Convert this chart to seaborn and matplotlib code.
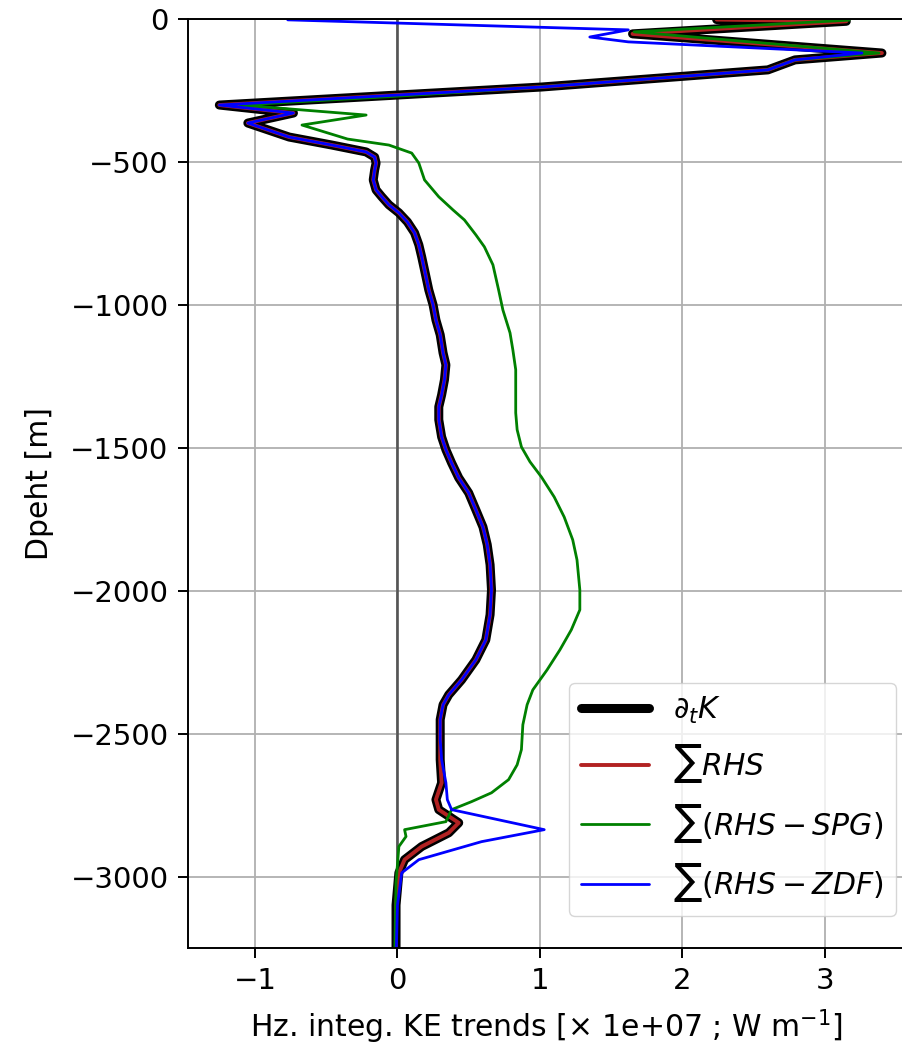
import matplotlib
matplotlib.use("Agg")
import matplotlib.pyplot as plt
import pandas as pd
import seaborn as sns

# Depth-profiles of horizontally integrated KE trends (x 1e7 W/m)
depth_dtk = [-2, -8, -52, -119, -143, -178, -238, -266, -301, -329, -364, -413,
             -441, -465, -483, -504, -528, -563, -598, -622, -650, -678, -710,
             -748, -790, -832, -878, -948, -1000, -1053, -1105, -1168, -1210,
             -1262, -1315, -1357, -1402, -1462, -1507, -1553, -1605, -1658, -1717,
             -1777, -1839, -1909, -1997, -2084, -2172, -2242, -2312, -2364, -2399,
             -2451, -2521, -2591, -2672, -2731, -2766, -2812, -2847, -2895, -2941,
             -2987, -3100, -3300]
dtk = [2.24, 3.15, 1.65, 3.40, 2.79, 2.60, 1.01, 0.00, -1.25, -0.73, -1.05, -0.76,
       -0.46, -0.22, -0.16, -0.15, -0.16, -0.17, -0.15, -0.11, -0.06, 0.01, 0.07,
       0.12, 0.15, 0.17, 0.19, 0.22, 0.25, 0.27, 0.30, 0.32, 0.34,
       0.33, 0.31, 0.29, 0.29, 0.31, 0.34, 0.38, 0.43, 0.50, 0.55,
       0.60, 0.63, 0.65, 0.66, 0.65, 0.62, 0.55, 0.45, 0.36, 0.32,
       0.30, 0.30, 0.30, 0.31, 0.27, 0.29, 0.43, 0.36, 0.17, 0.05,
       0.01, -0.01, -0.01]

depth_rhs = list(depth_dtk)
rhs = [2.24, 3.15, 1.65, 3.40, 2.79, 2.60, 1.01, 0.00, -1.25, -0.73, -1.05, -0.76,
       -0.46, -0.22, -0.16, -0.15, -0.16, -0.17, -0.15, -0.11, -0.06, 0.01, 0.07,
       0.12, 0.15, 0.17, 0.19, 0.22, 0.25, 0.27, 0.30, 0.32, 0.34,
       0.33, 0.31, 0.29, 0.29, 0.31, 0.34, 0.38, 0.43, 0.50, 0.55,
       0.60, 0.63, 0.65, 0.66, 0.65, 0.62, 0.55, 0.45, 0.36, 0.32,
       0.30, 0.30, 0.30, 0.31, 0.27, 0.29, 0.43, 0.36, 0.17, 0.05,
       0.01, -0.01, -0.01]

depth_spg = [-4, -45, -119, -143, -178, -238, -270, -301, -336, -371, -420, -441,
             -469, -504, -563, -622, -668, -703, -755, -797, -860, -948, -1018,
             -1098, -1158, -1227, -1297, -1378, -1437, -1497, -1549, -1602, -1672,
             -1742, -1822, -1892, -1997, -2067, -2137, -2207, -2277, -2347, -2399,
             -2469, -2556, -2609, -2661, -2707, -2738, -2766, -2808, -2836, -2860,
             -2895, -3021, -3300]
spg = [3.17, 1.66, 3.38, 2.79, 2.60, 1.00, 0.00, -1.10, -0.22, -0.67, -0.35, -0.06,
       0.10, 0.15, 0.19, 0.29, 0.39, 0.47, 0.55, 0.61, 0.67, 0.71, 0.74,
       0.79, 0.81, 0.83, 0.83, 0.83, 0.84, 0.87, 0.93, 1.01, 1.10,
       1.17, 1.23, 1.26, 1.28, 1.28, 1.22, 1.14, 1.05, 0.95, 0.91,
       0.88, 0.87, 0.84, 0.78, 0.66, 0.52, 0.38, 0.34, 0.05, 0.06,
       0.01, -0.01, -0.02]

depth_zdf = [-3, -38, -63, -80, -119, -143, -178, -238, -266, -301, -329, -364,
             -413, -441, -465, -483, -504, -528, -563, -598, -622, -650, -678,
             -710, -748, -790, -832, -878, -948, -1000, -1053, -1105, -1168,
             -1210, -1262, -1315, -1357, -1402, -1462, -1507, -1553, -1605, -1658,
             -1717, -1777, -1839, -1909, -1997, -2084, -2172, -2242, -2312, -2364,
             -2399, -2451, -2521, -2591, -2672, -2731, -2766, -2836, -2878, -2941,
             -2987, -3100, -3300]
zdf = [-0.77, 1.62, 1.35, 1.62, 3.26, 2.79, 2.60, 1.01, 0.00, -1.25, -0.73, -1.05,
       -0.76, -0.46, -0.22, -0.16, -0.15, -0.16, -0.17, -0.15, -0.11, -0.06, 0.01,
       0.07, 0.12, 0.15, 0.17, 0.19, 0.22, 0.25, 0.27, 0.30, 0.32,
       0.34, 0.33, 0.31, 0.29, 0.29, 0.31, 0.34, 0.38, 0.43, 0.50,
       0.55, 0.60, 0.63, 0.65, 0.66, 0.65, 0.62, 0.55, 0.45, 0.36,
       0.32, 0.30, 0.30, 0.31, 0.34, 0.35, 0.38, 1.03, 0.59, 0.15,
       0.03, 0.00, -0.01]

labels = [r"$\partial_t K$", r"$\sum RHS$", r"$\sum (RHS - SPG)$", r"$\sum (RHS - ZDF)$"]
colors = ["black", "#b22222", "green", "blue"]
widths = [6.5, 2.8, 2.0, 2.0]

x_ticks = [-1, 0, 1, 2, 3]
y_ticks = [0, -500, -1000, -1500, -2000, -2500, -3000]

sns.set_style("ticks", {"axes.grid": True, "grid.color": "#b0b0b0",
                        "axes.edgecolor": "black"})
plt.rcParams.update({
    "font.family": ["DejaVu Sans"],
    "mathtext.fontset": "dejavusans",
    "xtick.labelsize": 21,
    "ytick.labelsize": 21,
    "axes.labelsize": 21.5,
    "legend.fontsize": 21.5,
    "grid.linewidth": 1.3,
    "axes.linewidth": 1.4,
    "xtick.major.size": 7,
    "ytick.major.size": 7,
    "xtick.major.pad": 7,
    "ytick.major.pad": 7,
    "xtick.major.width": 1.4,
    "ytick.major.width": 1.4,
    "xtick.color": "black",
    "ytick.color": "black",
    "text.color": "black",
    "axes.labelcolor": "black",
})

fig = plt.figure(figsize=(9.03, 10.5), dpi=100)
ax = fig.add_axes([188 / 903, 102 / 1050, 716 / 903, 929 / 1050])

ax.axvline(0, color="#555555", lw=1.9, zorder=1.5)

series = [(depth_dtk, dtk), (depth_rhs, rhs), (depth_spg, spg), (depth_zdf, zdf)]
for (z, v), lab, col, lw in zip(series, labels, colors, widths):
    df = pd.DataFrame({"value": v, "depth": z})
    sns.lineplot(data=df, x="value", y="depth", sort=False, estimator=None,
                 color=col, lw=lw, label=lab, ax=ax, zorder=2)

ax.set_xlim(-1.47, 3.555)
ax.set_ylim(-3250, 0)
ax.set_xticks(x_ticks)
ax.set_yticks(y_ticks)
ax.grid(True, color="#b0b0b0", lw=1.3)
ax.set_axisbelow(True)
ax.spines["right"].set_visible(False)
ax.set_xlabel("Hz. integ. KE trends [× 1e+07 ; W m$^{-1}$]", labelpad=9)
ax.set_ylabel("Dpeht [m]", labelpad=12)

ax.legend(loc="lower right", bbox_to_anchor=(896 / 903, 134 / 1050),
          bbox_transform=fig.transFigure, borderaxespad=0, frameon=True,
          fancybox=True, framealpha=0.8, edgecolor="#cccccc",
          handlelength=2.3, labelspacing=0.55)

fig.savefig("out.png", dpi=100)
